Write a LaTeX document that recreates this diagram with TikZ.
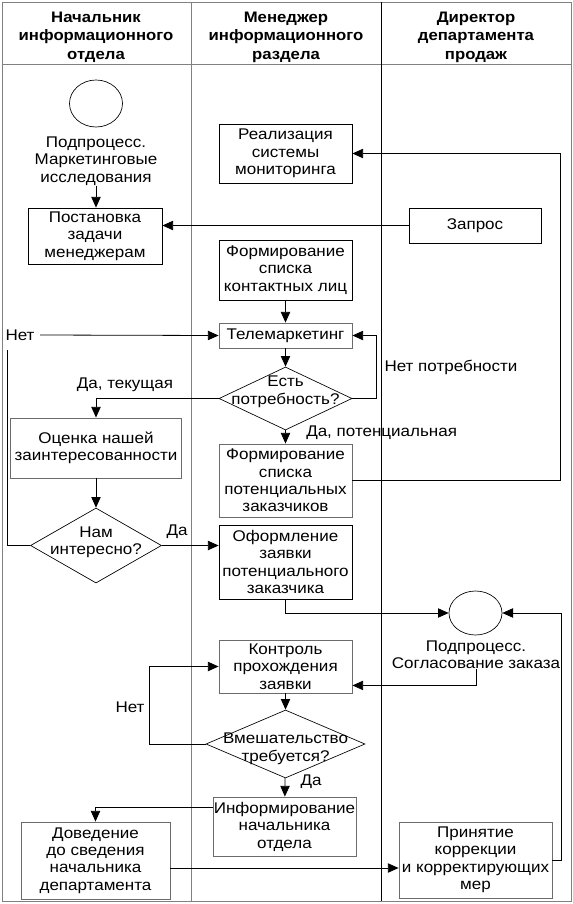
\documentclass[tikz,border=0pt]{standalone}
\usepackage{fontspec}
\setmainfont{Liberation Sans}[FakeStretch=1.1]
\usetikzlibrary{arrows.meta,shapes.geometric,calc}
\definecolor{framegray}{gray}{0.5}
\definecolor{boxgray}{gray}{0.42}
\begin{document}
\begin{tikzpicture}[x=0.75pt,y=-0.75pt,
  every node/.style={font=\fontsize{11.6}{13.1}\selectfont, inner sep=0pt, align=center},
  hdr/.style={font=\bfseries\fontsize{11.4}{13.9}\selectfont},
  sz/.style 2 args={minimum width={#1*0.75pt}, minimum height={#2*0.75pt}},
  bx/.style={draw=boxgray, line width=0.65pt, rectangle},
  bxk/.style={draw=black, line width=0.6pt, rectangle},
  dia/.style={draw=black, line width=0.5pt, diamond},
  oval/.style={draw=black, line width=0.5pt, ellipse},
  ln/.style={draw=black, line width=0.6pt},
  arr/.style={ln, -{Triangle[length=8pt,width=7pt]}},
  gl/.style={draw=framegray, line width=0.7pt}
]
\useasboundingbox (0,0) rectangle (573,904);
% frame and lanes
\draw[gl] (2,2) rectangle (571,901);
\draw[gl] (2,64) -- (571,64);
\draw[gl] (191,2) -- (191,901);
\draw[ln] (381,2) -- (381,901);
% headers
\node[hdr] (h1) at (96,37) {Начальник\\информационного\\отдела};
\node[hdr] (h2) at (286,37) {Менеджер\\информационного\\раздела};
\node[hdr] (h3) at (476,37) {Директор\\департамента\\продаж};
% column 1 top
\node[oval, sz={53}{47}] (c1) at (96,103.5) {};
\node (t1) at (96,161) {Подпроцесс.\\Маркетинговые\\исследования};
\node[bxk, sz={134}{56}] (post) at (95,236) {Постановка\\задачи\\менеджерам};
\draw[arr] (t1.south) -- (t1.south |- post.north);
% column 3 top
\node[bxk, sz={132}{35}] (zapr) at (475,225.5) {Запрос};
\draw[arr] (zapr.west) -- (zapr.west -| post.east);
% column 2
\node[bxk, sz={133}{59}] (real) at (285.5,153.5) {Реализация\\системы\\мониторинга};
\node[bxk, sz={133}{60}] (fk) at (285.5,270) {Формирование\\списка\\контактных лиц};
\node[bx, sz={133}{25}] (tel) at (285.5,335.5) {Телемаркетинг};
\draw[arr] (fk) -- (tel);
\node[dia, sz={133}{63}] (d1) at (285.5,398.5) {};
\node (d1t) at (285.5,392) {Есть\\потребность?};
\draw[arr] (tel) -- (d1);
\draw[arr] (d1.east) -- ++(24,0) |- (tel.east);
\node (np) at (451,367) {Нет потребности};
\node (net1) at (20,335) {Нет};
\draw[arr] ([xshift=4pt]net1.east) -- (tel.west);
% column 1 middle
\node (dt) at (125,385) {Да, текущая};
\node[bx, sz={171}{60}] (ots) at (96,448) {Оценка нашей\\заинтересованности};
\draw[arr] (d1.west) -| (ots.north);
\node[dia, sz={131}{75}] (nam) at (96,545.5) {};
\node (namt) at (96,542.5) {Нам\\интересно?};
\draw[arr] (ots) -- (nam);
\draw[ln] (nam.west) -- (7,545.5) -- (7,350);
\node (da1) at (177,532) {Да};
% potential
\node[anchor=west] (dp) at (306,433) {Да, потенциальная};
\node[bx, sz={133}{73}] (fp) at (285.5,480.5) {Формирование\\списка\\потенциальных\\заказчиков};
\draw[arr] (d1) -- (fp);
\draw[arr] (fp.east) -- ++(208,0) |- (real.east);
\node[bxk, sz={133}{74}] (ofo) at (285.5,562) {Оформление\\заявки\\потенциального\\заказчика};
\draw[arr] (nam.east) -- (nam.east -| ofo.west);
% subprocess 2
\node[oval, sz={53}{44}] (c2) at (475.5,613) {};
\draw[arr] (ofo.south) |- (c2.west);
\node (t2) at (476,655) {Подпроцесс.\\Согласование заказа};
\node[bx, sz={133}{53}] (kon) at (285.5,666.5) {Контроль\\прохождения\\заявки};
\draw[arr] (t2.south) |- ($(kon.south east)+(0,-8)$);
\node[dia, sz={159}{68}] (d2) at (285.5,744) {};
\node (d2t) at (285.5,749) {Вмешательство\\требуется?};
\draw[arr] (kon) -- (d2);
\draw[arr] (d2.west) -- ++(-56,0) |- (kon.west);
\node (net2) at (130,707) {Нет};
\node[bx, sz={143}{59}] (inf) at (284.5,826.5) {Информирование\\начальника\\отдела};
\draw[arr] (d2) -- (inf);
\node (da2) at (311,782) {Да};
\node[bx, sz={149}{77}] (dov) at (95.5,860.5) {Доведение\\до сведения\\начальника\\департамента};
\draw[arr] ($(inf.north west)+(0,11)$) -| (dov.north);
\node[bx, sz={153}{76}] (prin) at (475.5,860) {Принятие\\коррекции\\и корректирующих\\мер};
\draw[arr] ($(dov.east)+(0,7.5)$) -- ($(prin.west)+(0,8)$);
\draw[arr] (prin.east) -- ++(8.5,0) |- (c2.east);
\end{tikzpicture}
\end{document}
